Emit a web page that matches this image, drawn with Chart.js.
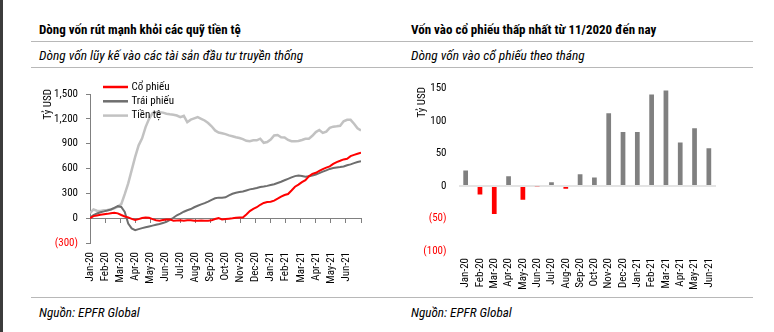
<!DOCTYPE html>
<html>
<head>
<meta charset="utf-8">
<script src="https://cdn.jsdelivr.net/npm/chart.js@4.4.0/dist/chart.umd.min.js"></script>
<style>
  body { margin: 0; background: #fff; width: 774px; height: 332px; overflow: hidden; position: relative;
         font-family: "Roboto Condensed", "Liberation Sans", sans-serif; color: #000; }
  .strip { position: absolute; left: 0; top: 0; width: 3px; height: 332px; background: #3c3c3c; }
  .rule { position: absolute; left: 31px; width: 722px; height: 1px; background: #b8b8b8; }
  .tieude { position: absolute; font-weight: bold; font-size: 13px; line-height: 16px; white-space: nowrap; }
  .phu { position: absolute; font-style: italic; font-size: 13.4px; line-height: 16px; white-space: nowrap; }
  .nguon { position: absolute; font-style: italic; font-size: 13.2px; line-height: 16px; white-space: nowrap; }
  canvas { position: absolute; }
</style>
</head>
<body>
<div class="strip"></div>
<div class="tieude" style="left:39px;top:22px">Dòng vốn rút mạnh khỏi các quỹ tiền tệ</div>
<div class="tieude" style="left:411px;top:22px">Vốn vào cổ phiếu thấp nhất từ 11/2020 đến nay</div>
<div class="rule" style="top:41px"></div>
<div class="phu" style="left:39px;top:48px">Dòng vốn lũy kế vào các tài sản đầu tư truyền thống</div>
<div class="phu" style="left:411px;top:48px">Dòng vốn vào cổ phiếu theo tháng</div>
<div class="rule" style="top:67px"></div>
<canvas id="c1" width="369" height="225" style="left:31px;top:70px"></canvas>
<canvas id="c2" width="353" height="225" style="left:400px;top:70px"></canvas>
<div class="rule" style="top:297px"></div>
<div class="nguon" style="left:39px;top:305px">Nguồn: EPFR Global</div>
<div class="nguon" style="left:411px;top:305px">Nguồn: EPFR Global</div>

<script>
const thang = ["Jan-20", "Feb-20", "Mar-20", "Apr-20", "May-20", "Jun-20", "Jul-20", "Aug-20", "Sep-20",
  "Oct-20", "Nov-20", "Dec-20", "Jan-21", "Feb-21", "Mar-21", "Apr-21", "May-21", "Jun-21"];

// Luy ke theo tuan (ty USD), 79 diem tu dau 01/2020 den cuoi 06/2021
const coPhieu = [0, 25, 32, 40, 46, 52, 60, 64, 58, 38, 20, 10, -8, -22, -12, 2, 8, 4, -12, -25,
  -30, -22, -15, -15, -30, -28, -26, -30, -26, -26, -32, -30, -28, -32, -30, -26, -10, 0, -16, -10,
  -6, -2, 4, 8, 8, 45, 85, 112, 132, 162, 184, 196, 198, 212, 235, 260, 280, 292, 335, 380,
  405, 435, 460, 505, 535, 548, 570, 592, 610, 625, 655, 678, 693, 710, 718, 750, 765, 778, 790];
const traiPhieu = [8, 38, 56, 72, 82, 93, 105, 125, 145, 135, 75, -65, -124, -144, -132, -120, -110, -100, -90, -80,
  -70, -58, -45, -20, 5, 35, 55, 78, 96, 110, 132, 150, 166, 182, 200, 222, 240, 248, 248, 252,
  275, 295, 308, 315, 322, 335, 348, 355, 364, 376, 382, 390, 400, 410, 425, 440, 458, 475, 492, 508,
  515, 510, 500, 505, 515, 528, 545, 562, 578, 595, 605, 612, 617, 625, 640, 650, 665, 678, 688];
const tienTe = [60, 105, 90, 88, 95, 98, 105, 118, 140, 170, 290, 420, 580, 740, 880, 965, 1100, 1200, 1270, 1280,
  1280, 1275, 1262, 1255, 1250, 1240, 1220, 1236, 1160, 1190, 1205, 1220, 1200, 1180, 1150, 1110, 1060, 1035, 1025, 1015,
  1000, 990, 978, 968, 955, 935, 930, 940, 940, 960, 910, 920, 950, 1000, 1005, 978, 975, 945, 930, 928,
  932, 945, 960, 960, 995, 1040, 1065, 1030, 1045, 1090, 1105, 1110, 1116, 1170, 1188, 1188, 1140, 1085, 1060];

// Dong von vao co phieu theo thang (ty USD)
const vonThang = [24, -13, -43, 15, -21, -1, 6, -4, 18, 13, 112, 83, 83, 141, 147, 67, 89, 58];

const font = { family: '"Roboto Condensed", "Liberation Sans", sans-serif', size: 11 };
const nhanSo = v => v < 0 ? "(" + Math.abs(v) + ")" : v.toLocaleString("en-US");
const mauNhan = ctx => ctx.tick.value < 0 ? "#ff0000" : "#000";

// tieu de truc doc "Tỷ USD" dat sat phia tren
const tieuDeTruc = (x, y) => ({
  id: "tieuDeTruc",
  afterDraw(chart) {
    const ctx = chart.ctx;
    ctx.save();
    ctx.translate(x, y);
    ctx.rotate(-Math.PI / 2);
    ctx.font = "11px " + font.family;
    ctx.fillStyle = "#000";
    ctx.textAlign = "right";
    ctx.textBaseline = "middle";
    ctx.fillText("Tỷ USD", 0, 0);
    ctx.restore();
  }
});

// chu thich nam trong vung ve
const chuThich = {
  id: "chuThich",
  afterDraw(chart) {
    const ctx = chart.ctx;
    ctx.save();
    ctx.font = "11px " + font.family;
    ctx.textBaseline = "middle";
    chart.data.datasets.forEach((ds, i) => {
      const y = 17 + i * 14.3;
      ctx.strokeStyle = ds.borderColor;
      ctx.lineWidth = 2.5;
      ctx.beginPath();
      ctx.moveTo(72, y);
      ctx.lineTo(97, y);
      ctx.stroke();
      ctx.fillStyle = "#000";
      ctx.fillText(ds.label, 100.5, y);
    });
    ctx.restore();
  }
};

const theoTuan = arr => arr.map((v, i) => ({ x: i * 18 / 78, y: v }));

new Chart(document.getElementById("c1"), {
  type: "line",
  data: {
    datasets: [
      { label: "Cổ phiếu", data: theoTuan(coPhieu), borderColor: "#ff0000", borderWidth: 2 },
      { label: "Trái phiếu", data: theoTuan(traiPhieu), borderColor: "#6e6e6e", borderWidth: 2 },
      { label: "Tiền tệ", data: theoTuan(tienTe), borderColor: "#c2c2c2", borderWidth: 2.5 }
    ]
  },
  options: {
    responsive: false,
    animation: false,
    devicePixelRatio: 1,
    elements: { point: { radius: 0 }, line: { tension: 0 } },
    layout: { padding: { top: 24, right: 39, left: 0, bottom: 0 } },
    plugins: { legend: { display: false }, tooltip: { enabled: false } },
    scales: {
      x: {
        type: "linear", min: 0, max: 18, position: { y: 0 },
        ticks: { display: false, stepSize: 1 },
        grid: { drawOnChartArea: false, tickLength: 4, color: "#808080" },
        border: { color: "#808080" }
      },
      x2: {
        type: "linear", min: 0, max: 18, position: "bottom",
        ticks: { stepSize: 1, minRotation: 90, maxRotation: 90, padding: 9, font, color: "#000",
                 autoSkip: false, callback: v => thang[v] || "" },
        grid: { display: false, drawTicks: false },
        border: { display: false },
        afterFit: s => { s.height = 52; }
      },
      y: {
        min: -300, max: 1500,
        ticks: { stepSize: 300, padding: 8, font, color: mauNhan, callback: nhanSo },
        grid: { drawOnChartArea: false, tickLength: 4, color: "#808080" },
        border: { color: "#808080" },
        afterFit: s => { s.width = 59; }
      }
    }
  },
  plugins: [tieuDeTruc(17, 19), chuThich]
});

new Chart(document.getElementById("c2"), {
  type: "bar",
  data: {
    labels: thang,
    datasets: [{
      label: "Dòng vốn vào cổ phiếu",
      data: vonThang,
      backgroundColor: vonThang.map(v => v < 0 ? "#ff0000" : "#808080"),
      barPercentage: 0.33,
      categoryPercentage: 1
    }]
  },
  options: {
    responsive: false,
    animation: false,
    devicePixelRatio: 1,
    layout: { padding: { top: 15, right: 37, left: 0, bottom: 0 } },
    plugins: { legend: { display: false }, tooltip: { enabled: false } },
    scales: {
      x: {
        grid: { display: false, drawTicks: false },
        border: { display: false },
        ticks: { minRotation: 90, maxRotation: 90, padding: 7, font, color: "#000", autoSkip: false },
        afterFit: s => { s.height = 44; }
      },
      y: {
        min: -100, max: 150,
        ticks: { stepSize: 50, padding: 12, font, color: mauNhan, callback: nhanSo },
        grid: { color: ctx => ctx.tick.value === 0 ? "#e4e4e4" : "rgba(0,0,0,0)", lineWidth: 2, drawTicks: false },
        border: { display: false },
        afterFit: s => { s.width = 58.5; }
      }
    }
  },
  plugins: [tieuDeTruc(22, 17)]
});
</script>
</body>
</html>
